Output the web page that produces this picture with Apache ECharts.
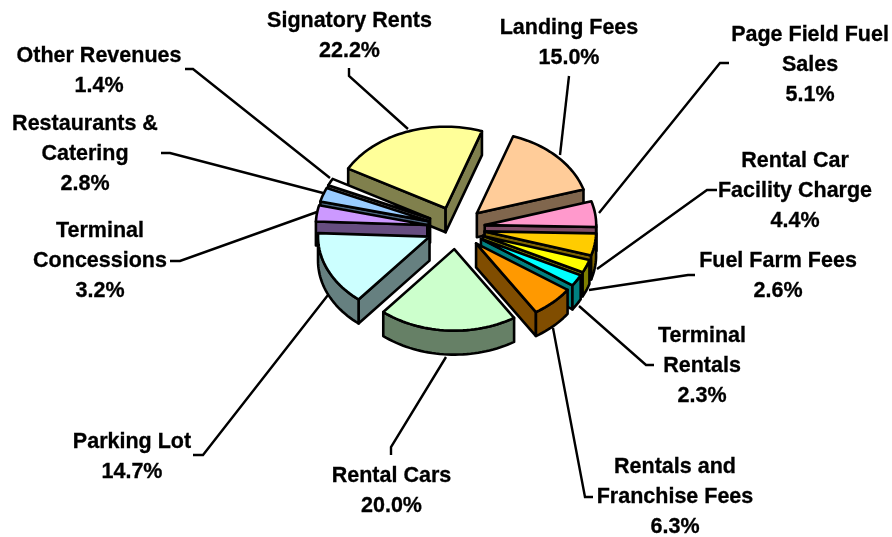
<!DOCTYPE html>
<html>
<head>
<meta charset="utf-8">
<title>Revenue shares</title>
<script src="https://cdn.jsdelivr.net/npm/echarts@6/dist/echarts.min.js"></script>
<style>
html, body { margin: 0; padding: 0; background: #fff; }
#chart { width: 892px; height: 537px; }
</style>
</head>
<body>
<div id="chart"></div>
<script>
let categories = ['Landing Fees', 'Page Field Fuel\nSales', 'Rental Car\nFacility Charge', 'Fuel Farm Fees', 'Terminal\nRentals', 'Rentals and\nFranchise Fees', 'Rental Cars', 'Parking Lot', 'Terminal\nConcessions', 'Restaurants &\nCatering', 'Other Revenues', 'Signatory Rents'];
let shares = [15.0, 5.1, 4.4, 2.6, 2.3, 6.3, 20.0, 14.7, 3.2, 2.8, 1.4, 22.2];
let colors = ['#FFCC99', '#FF99CC', '#FFCC00', '#FFFF00', '#00FFFF', '#FF9900', '#CCFFCC', '#CCFFFF', '#CC99FF', '#99CCFF', '#FFFFFF', '#FFFF99'];

// label centre (x, y of the block middle) and leader line, same order as categories
let labelPos = [[569, 43], [810, 65], [795, 191], [778, 276], [702, 366], [675, 497], [391.5, 491], [132, 457], [100, 261], [85, 154], [99, 71], [349.5, 36]];
let leaders = [
	[[569, 76], [560, 155]],
	[[729, 63], [720, 63], [599, 213]],
	[[717, 190], [707, 190], [597, 269]],
	[[695, 275], [688, 275], [589, 290]],
	[[654, 365], [646, 365], [579, 306]],
	[[593, 497], [585, 497], [553, 328]],
	[[391, 455], [391, 447], [446, 357]],
	[[193, 455], [203, 455], [328, 295]],
	[[170, 261], [180, 261], [317, 212]],
	[[161, 153], [170, 153], [323, 193]],
	[[185, 69], [193, 69], [330, 178]],
	[[349, 68], [349, 76], [408, 129]]
];

let CX = 456, CY = 228, RX = 111.5, RY = 81.5, DEPTH = 24, EXPLODE = 0.26, START = 19;

let total = shares.reduce((a, b) => a + b, 0);
let angles = [];
let sum = 0;
shares.forEach(v => {
	let from = START + sum / total * 360;
	sum += v;
	angles.push([from, START + sum / total * 360]);
});

function darker(hex) {
	let n = parseInt(hex.slice(1), 16);
	let half = c => Math.round(c / 2);
	return 'rgb(' + half(n >> 16 & 255) + ',' + half(n >> 8 & 255) + ',' + half(n & 255) + ')';
}

function arcPoints(ox, oy, from, to, dy) {
	let pts = [];
	let steps = Math.max(2, Math.ceil((to - from) / 2));
	for (let i = 0; i <= steps; i++) {
		let t = (from + (to - from) * i / steps) * Math.PI / 180;
		pts.push([ox + RX * Math.sin(t), oy - RY * Math.cos(t) + dy]);
	}
	return pts;
}

function face(points, fill) {
	return {
		type: 'polygon',
		shape: { points: points },
		style: { fill: fill, stroke: '#000', lineWidth: 2.6, lineJoin: 'round' }
	};
}

function renderSlice(params, api) {
	let i = api.value(0);
	let from = angles[i][0], to = angles[i][1];
	let mid = (from + to) / 2 * Math.PI / 180;
	let ox = CX + EXPLODE * RX * Math.sin(mid);
	let oy = CY - EXPLODE * RY * Math.cos(mid);
	let top = arcPoints(ox, oy, from, to, 0);
	let first = top[0], last = top[top.length - 1];
	let side = darker(colors[i]);
	let children = [];

	if (first[0] < ox) {
		children.push(face([[ox, oy], first, [first[0], first[1] + DEPTH], [ox, oy + DEPTH]], side));
	}
	if (last[0] > ox) {
		children.push(face([[ox, oy], last, [last[0], last[1] + DEPTH], [ox, oy + DEPTH]], side));
	}
	let a = Math.max(from, 90), b = Math.min(to, 270);
	if (b > a) {
		children.push(face(arcPoints(ox, oy, a, b, 0).concat(arcPoints(ox, oy, a, b, DEPTH).reverse()), side));
	}
	children.push(face([[ox, oy]].concat(top), colors[i]));
	return { type: 'group', children: children };
}

function renderLabel(params, api) {
	let i = api.value(0);
	return {
		type: 'group',
		children: [
			{
				type: 'polyline',
				shape: { points: leaders[i] },
				style: { fill: null, stroke: '#000', lineWidth: 2.4 }
			},
			{
				type: 'text',
				style: {
					x: labelPos[i][0],
					y: labelPos[i][1],
					text: categories[i] + '\n' + shares[i].toFixed(1) + '%',
					align: 'center',
					verticalAlign: 'middle',
					fill: '#000',
					stroke: '#000',
					lineWidth: 0.3,
					font: 'bold 21.5px "Liberation Sans", Arial, sans-serif',
					lineHeight: 29.7
				}
			}
		]
	};
}

// back slices first so the front ones cover them
let paintOrder = shares.map((v, i) => i).sort((p, q) => {
	let mp = (angles[p][0] + angles[p][1]) / 2 * Math.PI / 180;
	let mq = (angles[q][0] + angles[q][1]) / 2 * Math.PI / 180;
	return Math.cos(mq) - Math.cos(mp);
});

let myChart = echarts.init(document.getElementById('chart'), null, { renderer: 'canvas' });

let option = {
	backgroundColor: '#fff',
	animation: false,
	series: [
		{
			name: 'labels',
			type: 'custom',
			coordinateSystem: 'none',
			silent: true,
			renderItem: renderLabel,
			data: shares.map((v, i) => [i, v])
		},
		{
			name: 'slices',
			type: 'custom',
			coordinateSystem: 'none',
			silent: true,
			renderItem: renderSlice,
			data: paintOrder.map(i => [i, shares[i]])
		}
	]
};

myChart.setOption(option);
</script>
</body>
</html>
